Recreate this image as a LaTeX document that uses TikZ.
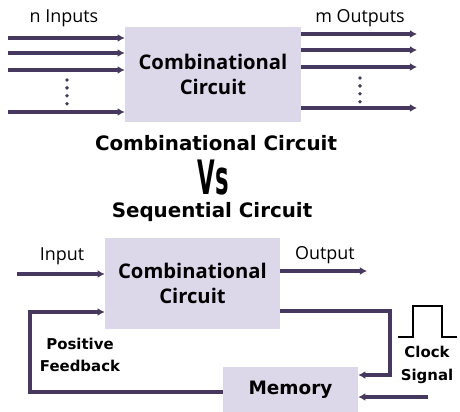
\documentclass[tikz,border=0pt]{standalone}
\usepackage{fontspec}
\setmainfont{Open Sans}
\newfontfamily\heavyfont{DejaVu Sans}
\newfontfamily\vsfont{DejaVu Sans}[FakeStretch=0.48]
\usetikzlibrary{arrows.meta,positioning}
\definecolor{wirecol}{HTML}{46385F}
\definecolor{boxcol}{HTML}{DCD7E9}
\tikzset{
	wire/.style={line width=1.9pt,color=wirecol},
	-wire/.style={wire,-{Latex[length=4pt,width=4.5pt]}},
	box/.style={fill=boxcol,rectangle,align=center,font=\fontsize{11.5}{14}\selectfont\bfseries},
	lbl/.style={font=\fontsize{10.2}{12}\selectfont},
	heavy/.style={align=center,font=\heavyfont\bfseries\fontsize{8.5}{13}\selectfont},
	headline/.style={font=\heavyfont\bfseries\fontsize{11.3}{13}\selectfont},
	dotcol/.style={wirecol,line width=2.2pt,line cap=round,dash pattern=on 0pt off 4.5pt},
	every new ->/.style={shorten >=1pt}
}
\begin{document}
\begin{tikzpicture}[x=0.02cm,y=-0.02cm]
			\useasboundingbox (0,0) rectangle (460,412);

			% combinational circuit
			\node[box,minimum width=3.52cm,minimum height=1.9cm] (cc) at (213,74.5) {Combinational\\Circuit};
			\node[lbl] (nin) at (64,18) {n Inputs};
			\node[lbl] (mout) at (360,18) {m Outputs};

			\coordinate (i1) at (8,38);
			\coordinate (i2) at (8,53);
			\coordinate (i3) at (8,70);
			\coordinate (i4) at (8,112);
			\coordinate (o1) at (417,34);
			\coordinate (o2) at (417,50);
			\coordinate (o3) at (417,67);
			\coordinate (o4) at (417,108);

			\draw[-wire] (i1) -- (i1 -| cc.west);
			\draw[-wire] (i2) -- (i2 -| cc.west);
			\draw[-wire] (i3) -- (i3 -| cc.west);
			\draw[-wire] (i4) -- (i4 -| cc.west);
			\draw[-wire] (o1 -| cc.east) -- (o1);
			\draw[-wire] (o2 -| cc.east) -- (o2);
			\draw[-wire] (o3 -| cc.east) -- (o3);
			\draw[-wire] (o4 -| cc.east) -- (o4);

			\coordinate (d1) at (67,80);
			\coordinate (d2) at (67,104);
			\coordinate (d3) at (360,78);
			\coordinate (d4) at (360,102);
			\draw[dotcol] (d1) -- (d2);
			\draw[dotcol] (d3) -- (d4);

			% headings
			\node[headline] (t1) at (216,143) {Combinational Circuit};
			\node[font=\vsfont\bfseries\fontsize{27}{30}\selectfont] (vs) at (213,178) {Vs};
			\node[headline] (t2) at (212,212) {Sequential Circuit};

			% sequential circuit
			\node[box,minimum width=3.5cm,minimum height=1.82cm] (sc) at (192.5,283.5) {Combinational\\Circuit};
			\node[box,minimum width=2.7cm,minimum height=0.9cm,font=\heavyfont\bfseries\fontsize{10.5}{12}\selectfont] (mem) at (290.5,389.5) {Memory};
			\node[lbl] (inp) at (62,256) {Input};
			\node[lbl] (outp) at (325,255) {Output};
			\node[heavy] (pf) at (80,355) {Positive\\Feedback};
			\node[heavy] (cs) at (427,365) {Clock\\Signal};

			\coordinate (sin) at (17,274);
			\coordinate (sout) at (367,271);
			\coordinate (q1) at (390,311);
			\coordinate (q2) at (358,375);
			\coordinate (q3) at (30,392);
			\coordinate (fb) at (30,312);
			\coordinate (clk) at (428,397);

			\draw[-wire] (sin) -- (sin -| sc.west);
			\draw[-wire] (sout -| sc.east) -- (sout);
			\draw[-wire] (q1 -| sc.east) -- (q1) |- (q2 -| mem.east);
			\draw[-wire] (clk) -- (clk -| mem.east);
			\draw[-wire] (q3 -| mem.west) -- (q3) |- (fb -| sc.west);

			% clock pulse
			\draw[black,line width=0.9pt] (398,337) -- (413,337) -- (413,306) -- (442,306) -- (442,337) -- (457,337);
		\end{tikzpicture}
\end{document}
